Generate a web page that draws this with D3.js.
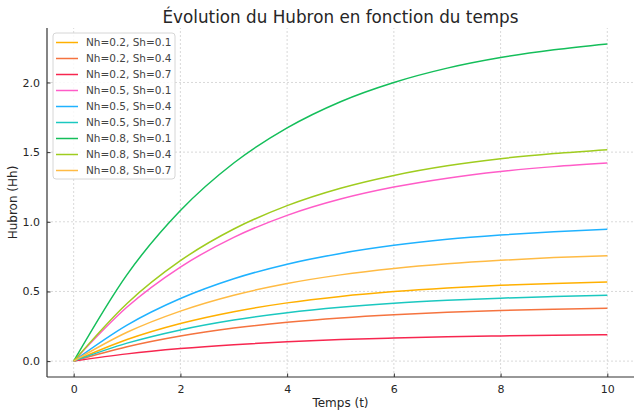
<!DOCTYPE html>
<html>
<head>
  <meta charset="utf-8">
  <title>Évolution du Hubron</title>
  <script src="https://d3js.org/d3.v7.min.js"></script>
  <style>
    body { margin: 0; background: #fff; }
    text { font-family: "DejaVu Sans", sans-serif; }
  </style>
</head>
<body>
  <svg id="chart"></svg>

  <script>
    // values, t = 0..10
    var times = [0, 1, 2, 3, 4, 5, 6, 7, 8, 9, 10];
    var labels = ["Nh=0.2, Sh=0.1", "Nh=0.2, Sh=0.4", "Nh=0.2, Sh=0.7",
                  "Nh=0.5, Sh=0.1", "Nh=0.5, Sh=0.4", "Nh=0.5, Sh=0.7",
                  "Nh=0.8, Sh=0.1", "Nh=0.8, Sh=0.4", "Nh=0.8, Sh=0.7"];
    var colors = ["#ffb000", "#f5733f", "#f7264f",
                  "#ff5cc8", "#1fb2ff", "#1bc8c0",
                  "#14be5a", "#9fcc1f", "#ffbb44"];
    var nh02 = [
      [0, 0.155, 0.270, 0.355, 0.418, 0.464, 0.499, 0.525, 0.544, 0.558, 0.568],
      [0, 0.103, 0.180, 0.237, 0.279, 0.310, 0.333, 0.350, 0.363, 0.372, 0.379],
      [0, 0.052, 0.090, 0.118, 0.139, 0.155, 0.166, 0.175, 0.181, 0.186, 0.189]
    ];
    var nh05 = [
      [0, 0.388, 0.675, 0.888, 1.046, 1.163, 1.249, 1.313, 1.361, 1.396, 1.422],
      [0, 0.258, 0.449, 0.591, 0.696, 0.773, 0.831, 0.874, 0.905, 0.929, 0.946],
      [0, 0.129, 0.224, 0.295, 0.347, 0.386, 0.415, 0.436, 0.452, 0.463, 0.472]
    ];
    var nh08 = [
      [0, 0.621, 1.081, 1.422, 1.674, 1.862, 2.000, 2.103, 2.179, 2.235, 2.277],
      [0, 0.414, 0.721, 0.948, 1.116, 1.241, 1.333, 1.402, 1.453, 1.490, 1.518],
      [0, 0.207, 0.359, 0.473, 0.557, 0.619, 0.665, 0.699, 0.724, 0.743, 0.757]
    ];
    var xTicks = [0, 2, 4, 6, 8, 10];
    var yTicks = [0, 0.5, 1.0, 1.5, 2.0];

    var series = nh02.concat(nh05, nh08).map(function(vals, i) {
      return { label: labels[i], color: colors[i],
               points: vals.map(function(v, j) { return [times[j], v]; }) };
    });

    var width = 640, height = 416;
    var margin = { top: 28, right: 6, bottom: 39, left: 47 };

    var svg = d3.select("#chart")
                .attr("width", width)
                .attr("height", height);

    var x = d3.scaleLinear().domain([-0.5, 10.5])
              .range([margin.left, width - margin.right]);
    var y = d3.scaleLinear().domain([-0.114, 2.391])
              .range([height - margin.bottom, margin.top]);

    // grid
    var grid = svg.append("g")
                  .attr("stroke", "#cfcfcf")
                  .attr("stroke-width", 0.8)
                  .attr("stroke-dasharray", "2,2");
    grid.selectAll("line.gx").data(xTicks).enter().append("line")
        .attr("x1", d => x(d)).attr("x2", d => x(d))
        .attr("y1", y.range()[0]).attr("y2", y.range()[1]);
    grid.selectAll("line.gy").data(yTicks).enter().append("line")
        .attr("x1", x.range()[0]).attr("x2", x.range()[1])
        .attr("y1", d => y(d)).attr("y2", d => y(d));

    // lines
    var line = d3.line()
                 .x(d => x(d[0]))
                 .y(d => y(d[1]))
                 .curve(d3.curveMonotoneX);

    svg.append("g").selectAll("path")
       .data(series)
       .enter().append("path")
       .attr("d", d => line(d.points))
       .attr("fill", "none")
       .attr("stroke", d => d.color)
       .attr("stroke-width", 1.5);

    // axes
    var xAxis = svg.append("g")
                   .attr("transform", "translate(0," + y.range()[0] + ")")
                   .call(d3.axisBottom(x).tickValues(xTicks).tickSizeInner(-3.5).tickSizeOuter(0).tickPadding(8));
    var yAxis = svg.append("g")
                   .attr("transform", "translate(" + x.range()[0] + ",0)")
                   .call(d3.axisLeft(y).tickValues(yTicks).tickFormat(d3.format(".1f")).tickSizeInner(-3.5).tickSizeOuter(0).tickPadding(7));

    [xAxis, yAxis].forEach(function(ax) {
      ax.select(".domain").attr("stroke", "#333").attr("stroke-width", 1.2);
      ax.selectAll(".tick line").attr("stroke", "#333");
      ax.selectAll(".tick text")
        .attr("font-family", "DejaVu Sans, sans-serif")
        .attr("font-size", 11)
        .attr("fill", "#262626");
    });
    // only left and bottom spines extend over the whole range
    xAxis.select(".domain").attr("d", "M" + x.range()[0] + ",0H" + x.range()[1]);
    yAxis.select(".domain").attr("d", "M0," + y.range()[0] + "V" + y.range()[1]);

    // title and axis labels
    svg.append("text")
       .attr("x", (x.range()[0] + x.range()[1]) / 2)
       .attr("y", 22.5)
       .attr("text-anchor", "middle")
       .attr("font-size", 16.8)
       .attr("fill", "#262626")
       .text("Évolution du Hubron en fonction du temps");

    svg.append("text")
       .attr("x", (x.range()[0] + x.range()[1]) / 2)
       .attr("y", 407)
       .attr("text-anchor", "middle")
       .attr("font-size", 12)
       .attr("fill", "#262626")
       .text("Temps (t)");

    svg.append("text")
       .attr("transform", "translate(17," + (y.range()[0] + y.range()[1]) / 2 + ") rotate(-90)")
       .attr("text-anchor", "middle")
       .attr("font-size", 12)
       .attr("fill", "#262626")
       .text("Hubron (Hh)");

    // legend
    var legend = svg.append("g").attr("transform", "translate(53,33)");
    legend.append("rect")
          .attr("width", 122).attr("height", 146)
          .attr("rx", 3)
          .attr("fill", "#fff").attr("fill-opacity", 0.85)
          .attr("stroke", "#d6d6d6");
    var item = legend.selectAll("g.item")
                     .data(series)
                     .enter().append("g")
                     .attr("transform", (d, i) => "translate(0," + (9.5 + i * 16) + ")");
    item.append("line")
        .attr("x1", 3).attr("x2", 25)
        .attr("stroke", d => d.color)
        .attr("stroke-width", 1.5);
    item.append("text")
        .attr("x", 33).attr("dy", "0.35em")
        .attr("font-size", 10.5)
        .attr("fill", "#444")
        .text(d => d.label);
  </script>
</body>
</html>
